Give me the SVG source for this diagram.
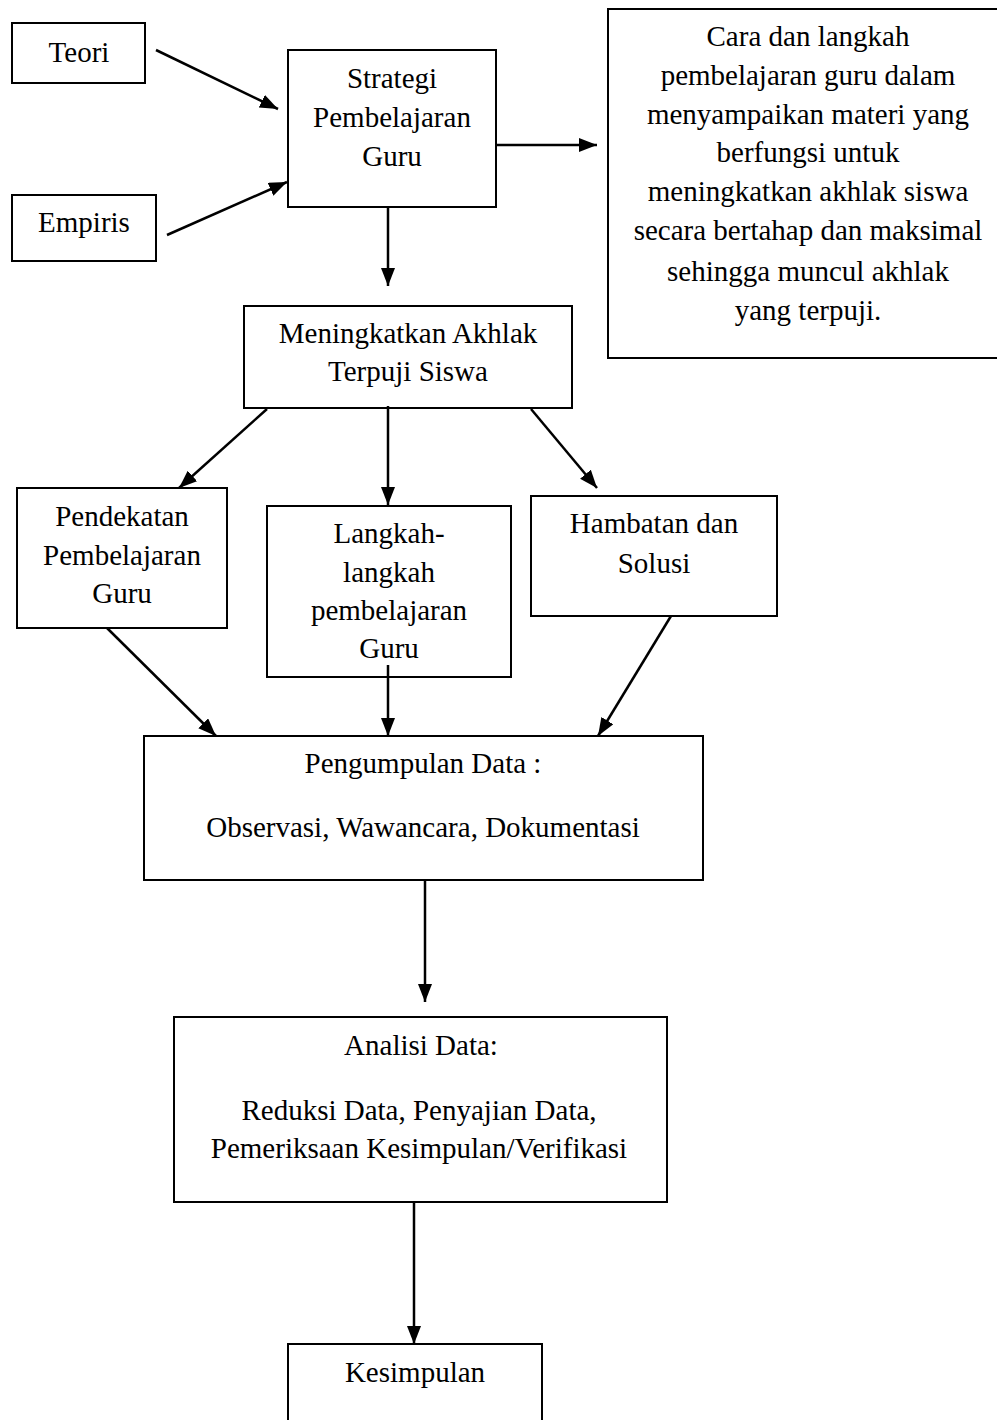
<svg xmlns="http://www.w3.org/2000/svg" width="997" height="1420" viewBox="0 0 997 1420">
<style>
  .box { fill: #ffffff; stroke: #000000; stroke-width: 2; }
  .lbl { font-family: "Liberation Serif", "Times New Roman", serif; font-size: 29px; fill: #000000; text-anchor: middle; }
  .edge { stroke: #000000; stroke-width: 2.5; fill: none; marker-end: url(#arr); }
</style>
<defs>
  <marker id="arr" markerUnits="userSpaceOnUse" markerWidth="20" markerHeight="16" refX="18" refY="7" orient="auto">
    <path d="M0,0 L18,7 L0,14 z" fill="#000000"/>
  </marker>
</defs>
<rect x="0" y="0" width="997" height="1420" fill="#ffffff"/>

<g id="teori">
  <rect class="box" x="12" y="23" width="133" height="60"/>
  <text class="lbl" x="79" y="62">Teori</text>
</g>

<g id="empiris">
  <rect class="box" x="12" y="195" width="144" height="66"/>
  <text class="lbl" x="84" y="232">Empiris</text>
</g>

<g id="strategi">
  <rect class="box" x="288" y="50" width="208" height="157"/>
  <text class="lbl" x="392" y="88">Strategi</text>
  <text class="lbl" x="392" y="127">Pembelajaran</text>
  <text class="lbl" x="392" y="166">Guru</text>
</g>

<g id="keterangan">
  <rect class="box" x="608" y="9" width="400" height="349"/>
  <text class="lbl" x="808" y="46">Cara dan langkah</text>
  <text class="lbl" x="808" y="85">pembelajaran guru dalam</text>
  <text class="lbl" x="808" y="124">menyampaikan materi yang</text>
  <text class="lbl" x="808" y="162">berfungsi untuk</text>
  <text class="lbl" x="808" y="201">meningkatkan akhlak siswa</text>
  <text class="lbl" x="808" y="240">secara bertahap dan maksimal</text>
  <text class="lbl" x="808" y="281">sehingga muncul akhlak</text>
  <text class="lbl" x="808" y="320">yang terpuji.</text>
</g>

<g id="meningkatkan">
  <rect class="box" x="244" y="306" width="328" height="102"/>
  <text class="lbl" x="408" y="343">Meningkatkan Akhlak</text>
  <text class="lbl" x="408" y="381">Terpuji Siswa</text>
</g>

<g id="pendekatan">
  <rect class="box" x="17" y="488" width="210" height="140"/>
  <text class="lbl" x="122" y="526">Pendekatan</text>
  <text class="lbl" x="122" y="565">Pembelajaran</text>
  <text class="lbl" x="122" y="603">Guru</text>
</g>

<g id="langkah">
  <rect class="box" x="267" y="506" width="244" height="171"/>
  <text class="lbl" x="389" y="543">Langkah-</text>
  <text class="lbl" x="389" y="582">langkah</text>
  <text class="lbl" x="389" y="620">pembelajaran</text>
  <text class="lbl" x="389" y="658">Guru</text>
</g>

<g id="hambatan">
  <rect class="box" x="531" y="496" width="246" height="120"/>
  <text class="lbl" x="654" y="533">Hambatan dan</text>
  <text class="lbl" x="654" y="573">Solusi</text>
</g>

<g id="pengumpulan">
  <rect class="box" x="144" y="736" width="559" height="144"/>
  <text class="lbl" x="423" y="773">Pengumpulan Data :</text>
  <text class="lbl" x="423" y="837">Observasi, Wawancara, Dokumentasi</text>
</g>

<g id="analisis">
  <rect class="box" x="174" y="1017" width="493" height="185"/>
  <text class="lbl" x="421" y="1055">Analisi Data:</text>
  <text class="lbl" x="419" y="1120">Reduksi Data, Penyajian Data,</text>
  <text class="lbl" x="419" y="1158">Pemeriksaan Kesimpulan/Verifikasi</text>
</g>

<g id="kesimpulan">
  <rect class="box" x="288" y="1344" width="254" height="90"/>
  <text class="lbl" x="415" y="1382">Kesimpulan</text>
</g>

<g id="connectors">
  <line class="edge" x1="156" y1="50" x2="278" y2="109"/>
  <line class="edge" x1="167" y1="235" x2="287" y2="182"/>
  <line class="edge" x1="496" y1="145" x2="597" y2="145"/>
  <line class="edge" x1="388" y1="207" x2="388" y2="286"/>
  <line class="edge" x1="267" y1="409" x2="179" y2="488"/>
  <line class="edge" x1="388" y1="406" x2="388" y2="505"/>
  <line class="edge" x1="531" y1="409" x2="597" y2="488"/>
  <line class="edge" x1="107" y1="628" x2="216" y2="736"/>
  <line class="edge" x1="388" y1="665" x2="388" y2="736"/>
  <line class="edge" x1="671" y1="616" x2="598" y2="736"/>
  <line class="edge" x1="425" y1="880" x2="425" y2="1002"/>
  <line class="edge" x1="414" y1="1202" x2="414" y2="1344"/>
</g>
</svg>
